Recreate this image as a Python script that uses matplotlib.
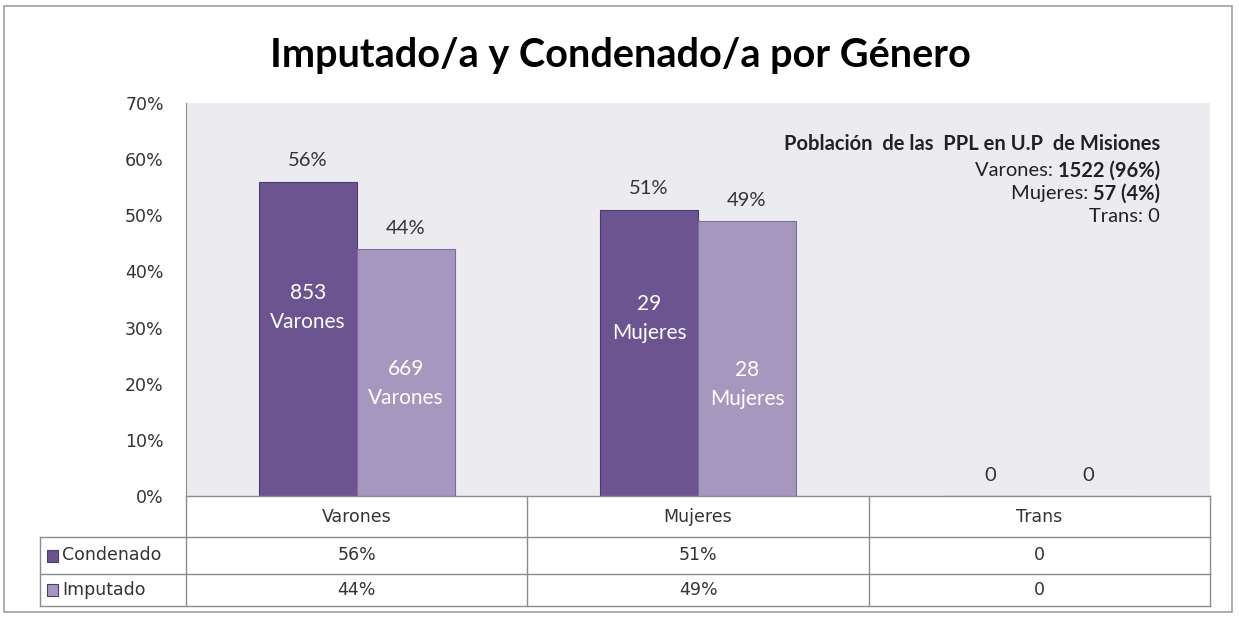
import matplotlib.pyplot as plt
from matplotlib.patches import Rectangle
from matplotlib.lines import Line2D

# data
categories = ['Varones', 'Mujeres', 'Trans']
series = ['Condenado', 'Imputado']
condenado_pct = [56, 51, 0]
imputado_pct = [44, 49, 0]
condenado_n = [853, 29, 0]
imputado_n = [669, 28, 0]
table_condenado = ['56%', '51%', '0']
table_imputado = ['44%', '49%', '0']
yticks = [0, 10, 20, 30, 40, 50, 60, 70]

note_title = 'Población  de las  PPL en U.P  de Misiones'
note_lines = [('Varones: ', '1522 (96%)'), ('Mujeres: ', '57 (4%)'), ('Trans: 0', '')]

# vertical spot (in %) of the white labels inside the bars, placed by hand in the original
inner_y_cond = [33.6, 31.6]
inner_y_imp = [20.1, 19.8]

dark = '#6C5491'
light = '#A697BF'
dark_edge = '#4E3A6E'
light_edge = '#7E6C9E'
plot_bg = '#ECEBF0'
grid_col = '#8C8C8C'
txt = '#333333'

W, H = 1239, 617
fig = plt.figure(figsize=(W / 100, H / 100), dpi=100)
fig.patch.set_facecolor('white')

# outer frame
fig.add_artist(Rectangle((4 / W, 1 - 612 / H), 1228 / W, 606 / H, transform=fig.transFigure,
                         fill=False, edgecolor='#A0A0A0', lw=1.2))

left, right, top, bottom = 186, 1210, 103, 496
ax = fig.add_axes([left / W, 1 - bottom / H, (right - left) / W, (bottom - top) / H])
ax.set_facecolor(plot_bg)
ax.set_xlim(0, len(categories))
ax.set_ylim(0, 70)

bw = 0.287
xs = [i + 0.5 for i in range(len(categories))]
x_cond = [x - bw / 2 for x in xs]
x_imp = [x + bw / 2 for x in xs]
ax.bar(x_cond, condenado_pct, width=bw, color=dark, edgecolor=dark_edge, linewidth=0.8, zorder=2)
ax.bar(x_imp, imputado_pct, width=bw, color=light, edgecolor=light_edge, linewidth=0.8, zorder=2)

lab_font = 'Lato'
for xc, v in zip(x_cond, condenado_pct):
    ax.annotate(f'{v}%' if v else '0', (xc, v), xytext=(0, 15), textcoords='offset points',
                ha='center', va='center', fontsize=14.5, color=txt, family=lab_font)
for xi, v in zip(x_imp, imputado_pct):
    ax.annotate(f'{v}%' if v else '0', (xi, v), xytext=(0, 15), textcoords='offset points',
                ha='center', va='center', fontsize=14.5, color=txt, family=lab_font)

for i in range(2):
    ax.text(x_cond[i], inner_y_cond[i], f'{condenado_n[i]}\n{categories[i]}', ha='center', va='center',
            color='white', fontsize=15, family=lab_font, linespacing=1.55, zorder=3)
    ax.text(x_imp[i], inner_y_imp[i], f'{imputado_n[i]}\n{categories[i]}', ha='center', va='center',
            color='white', fontsize=15, family=lab_font, linespacing=1.55, zorder=3)

ax.set_yticks(yticks)
ax.set_yticklabels([f'{t}%' for t in yticks], fontsize=12.5, color=txt)
ax.tick_params(axis='y', length=0, pad=16)
ax.set_xticks([])
for s in ['top', 'right', 'bottom']:
    ax.spines[s].set_visible(False)
ax.spines['left'].set_color(grid_col)

# title
fig.text(620 / W, 1 - 55 / H, 'Imputado/a y Condenado/a por Género', ha='center', va='center',
         fontsize=28.5, fontweight='bold', family=lab_font, color='black')

# population note (mixed bold/regular, right aligned)
renderer = fig.canvas.get_renderer()
xr = 1160 / W
nfs = 14.5
fig.text(xr, 1 - 144 / H, note_title, ha='right', va='center', fontsize=nfs, fontweight='bold',
         family=lab_font, color='#222222')
for k, (a, b) in enumerate(note_lines):
    yy = 1 - (171 + 23 * k) / H
    wb = 0
    if b:
        tb = fig.text(xr, yy, b, ha='right', va='center', fontsize=nfs, fontweight='bold',
                      family=lab_font, color='#222222')
        wb = tb.get_window_extent(renderer).width / W
    fig.text(xr - wb, yy, a, ha='right', va='center', fontsize=nfs, family=lab_font, color='#222222')

# data table below the axis
tax = fig.add_axes([0, 0, 1, 1], facecolor='none')
tax.set_xlim(0, W)
tax.set_ylim(H, 0)
tax.axis('off')
colw = (right - left) / len(categories)
row_y = [496, 537, 574, 606]
tab_left = 40
for yl in row_y[1:]:
    tax.add_line(Line2D([tab_left, right], [yl, yl], color=grid_col, lw=1))
tax.add_line(Line2D([left, right], [row_y[0], row_y[0]], color=grid_col, lw=1))
tax.add_line(Line2D([tab_left, tab_left], [row_y[1], row_y[3]], color=grid_col, lw=1))
for j in range(len(categories) + 1):
    xv = left + j * colw
    tax.add_line(Line2D([xv, xv], [row_y[0], row_y[3]], color=grid_col, lw=1))

tfs = 12.5
for j, cat in enumerate(categories):
    cx = left + (j + 0.5) * colw
    tax.text(cx, (row_y[0] + row_y[1]) / 2, cat, ha='center', va='center', fontsize=tfs, color=txt)
    tax.text(cx, (row_y[1] + row_y[2]) / 2, table_condenado[j], ha='center', va='center', fontsize=tfs, color=txt)
    tax.text(cx, (row_y[2] + row_y[3]) / 2, table_imputado[j], ha='center', va='center', fontsize=tfs, color=txt)

for r, (name, col, ec) in enumerate(zip(series, [dark, light], [dark_edge, dark_edge])):
    yc = (row_y[r + 1] + row_y[r + 2]) / 2
    tax.add_patch(Rectangle((47, yc - 6), 11, 12, facecolor=col, edgecolor=ec, lw=0.8))
    tax.text(62, yc, name, ha='left', va='center', fontsize=tfs, color=txt)

fig.savefig('out.png', dpi=100)
